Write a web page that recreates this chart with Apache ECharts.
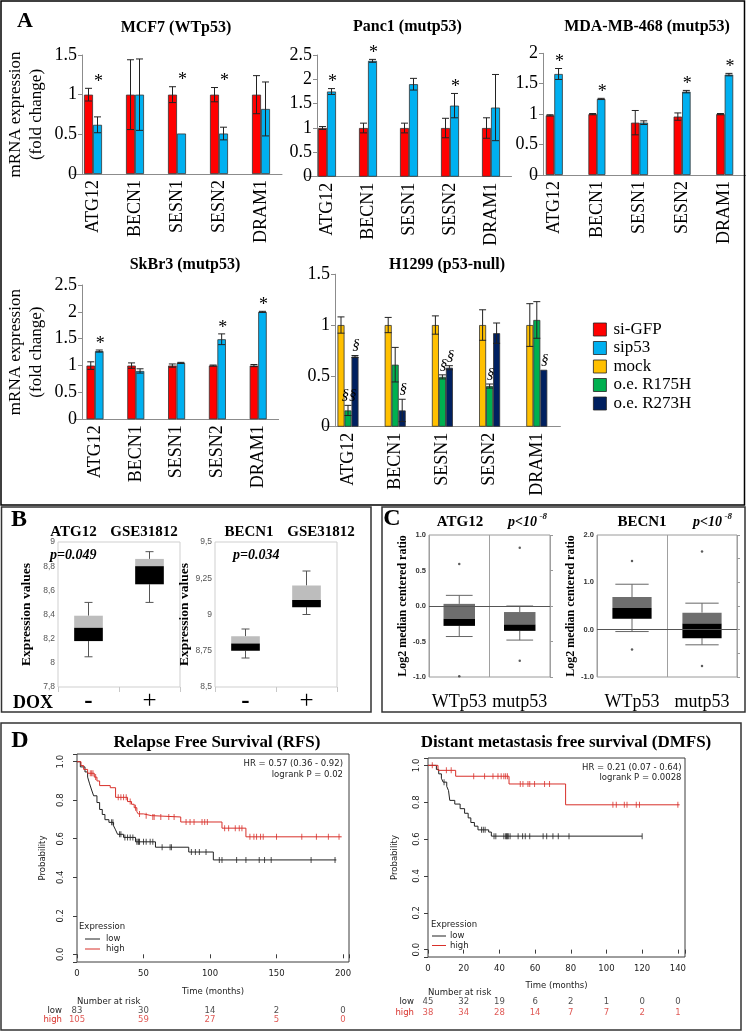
<!DOCTYPE html>
<html>
<head>
<meta charset="utf-8">
<title>p53 autophagy figure</title>
<script src="https://cdn.jsdelivr.net/npm/echarts@6.0.0/dist/echarts.min.js"></script>
<style>
  html, body { margin: 0; padding: 0; background: #fff; }
  #fig { width: 746px; height: 1032px; }
</style>
</head>
<body>
<div id="fig"></div>
<script>
// ---------- data ----------
var genes = ['ATG12', 'BECN1', 'SESN1', 'SESN2', 'DRAM1'];

// MCF7 (WTp53)
var mcfGfp    = [1.00, 1.00, 1.00, 1.00, 1.00];
var mcfGfpErr = [0.08, 0.44, 0.10, 0.09, 0.24];
var mcfSip    = [0.62, 1.00, 0.51, 0.51, 0.82];
var mcfSipErr = [0.10, 0.45, 0.00, 0.08, 0.34];
var mcfStar   = ['*', '', '*', '*', ''];

// Panc1 (mutp53)
var pancGfp    = [1.00, 1.00, 1.00, 1.00, 1.00];
var pancGfpErr = [0.03, 0.10, 0.10, 0.20, 0.21];
var pancSip    = [1.75, 2.38, 1.90, 1.46, 1.42];
var pancSipErr = [0.06, 0.03, 0.12, 0.25, 0.68];
var pancStar   = ['*', '*', '', '*', ''];

// MDA-MB-468 (mutp53)
var mdaGfp    = [0.98, 1.00, 0.86, 0.96, 1.00];
var mdaGfpErr = [0.01, 0.01, 0.20, 0.06, 0.01];
var mdaSip    = [1.66, 1.25, 0.86, 1.37, 1.65];
var mdaSipErr = [0.09, 0.01, 0.03, 0.02, 0.02];
var mdaStar   = ['*', '*', '', '*', '*'];

// SkBr3 (mutp53)
var skGfp    = [1.00, 1.00, 1.00, 1.00, 1.00];
var skGfpErr = [0.07, 0.05, 0.03, 0.01, 0.02];
var skSip    = [1.27, 0.90, 1.05, 1.49, 2.00];
var skSipErr = [0.02, 0.04, 0.01, 0.10, 0.01];
var skStar   = ['*', '', '', '*', '*'];

// H1299 (p53-null)
var hMock     = [1.00, 1.00, 1.00, 1.00, 1.00];
var hMockErr  = [0.08, 0.075, 0.09, 0.15, 0.21];
var hR175     = [0.16, 0.61, 0.49, 0.40, 1.05];
var hR175Err  = [0.05, 0.17, 0.02, 0.02, 0.18];
var hR273     = [0.69, 0.16, 0.58, 0.92, 0.56];
var hR273Err  = [0.01, 0.11, 0.02, 0.10, 0.00];
var hSigR175  = ['§§', '', '§', '§', ''];
var hSigR273  = ['§', '§', '§', '', '§'];

// B: GSE31812 boxes  [low, q1, median, q3, high]
var doxCats     = ['-', '+'];
var bAtgMinus   = [8.05, 8.18, 8.29, 8.39, 8.50];
var bAtgPlus    = [8.50, 8.65, 8.80, 8.86, 8.92];
var bBecMinus   = [8.70, 8.75, 8.80, 8.85, 8.90];
var bBecPlus    = [9.00, 9.05, 9.10, 9.20, 9.30];

// C: Log2 median centered ratio boxes [low, q1, median, q3, high]
var p53Cats   = ['WTp53', 'mutp53'];
var cAtgWT    = [-0.43, -0.28, -0.18, 0.03, 0.15];
var cAtgMut   = [-0.48, -0.35, -0.26, -0.085, 0.0];
var cAtgOut   = [[0, 0.59], [0, -0.99], [1, 0.82], [1, -0.77]];
var cBecWT    = [-0.04, 0.23, 0.46, 0.69, 0.96];
var cBecMut   = [-0.32, -0.18, 0.13, 0.36, 0.56];
var cBecOut   = [[0, 1.45], [0, -0.42], [1, 1.65], [1, -0.77]];

// D: Kaplan-Meier, RFS  [months, survival]
var rfsLow = [[0, 1], [2.5, 0.973], [6, 0.947], [8, 0.92], [9.5, 0.885], [11, 0.853], [12.5, 0.823],
  [15, 0.788], [17, 0.752], [19, 0.726], [21, 0.699], [24, 0.685], [27.5, 0.667], [29, 0.646],
  [30.5, 0.623], [35, 0.607], [44, 0.584], [59, 0.556], [84, 0.531], [102.5, 0.49], [195, 0.49]];
var rfsLowCens = [[26, 0.685], [27, 0.685], [32, 0.623], [33, 0.623], [36, 0.607], [38, 0.607],
  [40, 0.607], [42, 0.607], [45, 0.584], [46, 0.584], [46.5, 0.584], [47, 0.584], [50, 0.584],
  [52, 0.584], [55, 0.584], [57, 0.584], [64, 0.556], [70, 0.556], [71, 0.556], [86, 0.531],
  [89, 0.531], [92, 0.531], [97, 0.531], [107, 0.49], [109, 0.49], [120, 0.49], [127, 0.49],
  [137, 0.49], [141, 0.49], [146, 0.49], [176, 0.49], [194, 0.49]];
var rfsHigh = [[0, 1], [3, 0.98], [5, 0.96], [8, 0.94], [13, 0.92], [15, 0.90], [17, 0.876],
  [25, 0.865], [29, 0.815], [38, 0.793], [41, 0.779], [43, 0.761], [45, 0.74], [46, 0.729],
  [50, 0.72], [56, 0.713], [78, 0.687], [109, 0.655], [127, 0.61], [199, 0.61]];
var rfsHighCens = [[10, 0.94], [11, 0.94], [12, 0.94], [14, 0.92], [31, 0.815], [33, 0.815],
  [35, 0.815], [37, 0.815], [40, 0.793], [44, 0.761], [47, 0.729], [52, 0.72], [57, 0.713],
  [58, 0.713], [63, 0.713], [69, 0.713], [73, 0.713], [82, 0.687], [85, 0.687], [88, 0.687],
  [94, 0.687], [96, 0.687], [98, 0.687], [111, 0.655], [114, 0.655], [119, 0.655], [122, 0.655],
  [124, 0.655], [130, 0.61], [133, 0.61], [135, 0.61], [138, 0.61], [140, 0.61], [150, 0.61],
  [169, 0.61], [180, 0.61], [189, 0.61], [197, 0.61]];
var rfsTimes    = [0, 50, 100, 150, 200];
var rfsRiskLow  = [83, 30, 14, 2, 0];
var rfsRiskHigh = [105, 59, 27, 5, 0];

// D: Kaplan-Meier, DMFS
var dmfsLow = [[0, 1], [4.7, 0.978], [6, 0.954], [7.5, 0.93], [8.5, 0.909], [10.5, 0.886],
  [11.5, 0.863], [12.2, 0.81], [15, 0.79], [18, 0.765], [20.5, 0.74], [22.5, 0.715], [24, 0.69],
  [26, 0.67], [28, 0.65], [34, 0.638], [35.5, 0.616], [120, 0.616]];
var dmfsLowCens = [[9, 0.909], [30, 0.65], [31, 0.65], [32, 0.65], [37, 0.616], [38, 0.616],
  [42.5, 0.616], [43.5, 0.616], [44, 0.616], [44.5, 0.616], [45, 0.616], [46, 0.616],
  [50.5, 0.616], [53, 0.616], [54.5, 0.616], [57, 0.616], [64.5, 0.616], [66.5, 0.616],
  [70, 0.616], [73, 0.616], [79, 0.616], [120, 0.616]];
var dmfsHigh = [[0, 1], [5.6, 0.973], [15.5, 0.941], [45.4, 0.899], [77.1, 0.786], [141, 0.786]];
var dmfsHighCens = [[2.4, 1], [10.3, 0.973], [13, 0.973], [25.6, 0.941], [31.7, 0.941],
  [36.4, 0.941], [39.2, 0.941], [41, 0.941], [42.5, 0.941], [43.5, 0.941], [44.5, 0.941],
  [51.7, 0.899], [53.2, 0.899], [56, 0.899], [57, 0.899], [59.7, 0.899], [65.3, 0.899],
  [68.1, 0.899], [103.6, 0.786], [105.5, 0.786], [110, 0.786], [111.5, 0.786], [116.7, 0.786],
  [118.5, 0.786], [140, 0.786]];
var dmfsTimes    = [0, 20, 40, 60, 80, 100, 120, 140];
var dmfsRiskLow  = [45, 32, 19, 6, 2, 1, 0, 0];
var dmfsRiskHigh = [38, 34, 28, 14, 7, 7, 2, 1];

// ---------- styles ----------
var SERIF = '"Liberation Serif", "Times New Roman", serif';
var SANS = '"Liberation Sans", Arial, sans-serif';
var RSANS = '"DejaVu Sans", sans-serif';
var KMRED = '#d8302a';
var COLORS = {
  'si-GFP': '#ff0000', 'sip53': '#00b0f0', 'mock': '#ffc000',
  'o.e. R175H': '#00b050', 'o.e. R273H': '#002060'
};

var grids = [], xAxes = [], yAxes = [], extraY = [], series = [], graphics = [];

function seg(x1, y1, x2, y2, color, w) {
  return {type: 'line', shape: {x1: x1, y1: y1, x2: x2, y2: y2},
    style: {stroke: color || '#222', lineWidth: w || 1}};
}
function txt(x, y, s, font, opt) {
  opt = opt || {};
  graphics.push({type: 'text', x: x, y: y, rotation: opt.rot || 0, silent: true, z: 10,
    style: {text: s, font: font, fill: opt.color || '#000',
      textAlign: opt.align || 'center', textVerticalAlign: 'middle'}});
}
function frame(x, y, w, h, color) {
  graphics.push({type: 'rect', silent: true, z: 10, shape: {x: x, y: y, width: w, height: h},
    style: {fill: 'none', stroke: color, lineWidth: 1.5}});
}

// ---------- panel A: bar charts ----------
function barPanel(p) {
  var gi = grids.length;
  grids.push({left: p.left, top: p.top, width: p.width, height: p.height});
  xAxes.push({
    gridIndex: gi, type: 'category', data: genes,
    axisLine: {lineStyle: {color: '#8c8c8c'}},
    axisTick: {length: 5, lineStyle: {color: '#8c8c8c'}},
    axisLabel: {interval: 0, rotate: 90, margin: 6, fontFamily: SERIF, fontSize: 18, color: '#000'}
  });
  yAxes.push({
    gridIndex: gi, type: 'value', min: 0, max: p.max, interval: 0.5, offset: p.offset,
    axisLine: {show: true, lineStyle: {color: '#8c8c8c'}},
    axisTick: {show: true, length: 4, lineStyle: {color: '#8c8c8c'}},
    splitLine: {show: false},
    axisLabel: {fontFamily: SERIF, fontSize: 18, color: '#000', margin: 5},
    name: p.yName || '', nameLocation: 'middle', nameRotate: 90, nameGap: p.nameGap || 0,
    nameTextStyle: {fontFamily: SERIF, fontSize: 17, color: '#000', lineHeight: 21}
  });
  p.values.forEach(function (v, s) {
    series.push({
      type: 'bar', name: p.names[s], xAxisIndex: gi, yAxisIndex: gi, data: v,
      barWidth: p.barW, barGap: '0%', silent: true,
      itemStyle: {color: COLORS[p.names[s]], borderColor: '#333', borderWidth: 0.8}
    });
  });
  // error bars + significance marks
  series.push({
    type: 'custom', xAxisIndex: gi, yAxisIndex: gi, silent: true, z: 5,
    data: genes.map(function (g, i) { return [i, 0]; }),
    renderItem: function (params, api) {
      var i = api.value(0), n = p.values.length;
      var cx = api.coord([i, 0])[0];
      var kids = [], groupTop = Infinity, tops = [];
      for (var s = 0; s < n; s++) {
        var m = p.values[s][i], e = p.errs[s][i];
        var x = cx + (s - (n - 1) / 2) * p.barW;
        var hi = api.coord([i, m + e])[1], lo = api.coord([i, m - e])[1];
        tops.push([x, hi]);
        groupTop = Math.min(groupTop, hi);
        if (e > 0) {
          kids.push(seg(x, hi, x, lo), seg(x - 3.5, hi, x + 3.5, hi), seg(x - 3.5, lo, x + 3.5, lo));
        }
      }
      if (p.star && p.star[i]) {
        kids.push({type: 'text', style: {text: p.star[i], x: tops[n - 1][0] + 1, y: groupTop - 6,
          font: '18px ' + SERIF, fill: '#000', textAlign: 'center', textVerticalAlign: 'middle'}});
      }
      if (p.sig) {
        p.sig.forEach(function (arr, k) {
          var s2 = k + 1;
          if (arr[i]) {
            kids.push({type: 'text', style: {text: arr[i], x: tops[s2][0] + 1, y: tops[s2][1] - 10,
              font: 'italic 15px ' + SERIF, fill: '#000', textAlign: 'center', textVerticalAlign: 'middle'}});
          }
        });
      }
      return {type: 'group', children: kids};
    }
  });
}

barPanel({left: 72, top: 55, width: 210, height: 119, offset: -10, max: 1.5, barW: 9,
  names: ['si-GFP', 'sip53'], values: [mcfGfp, mcfSip], errs: [mcfGfpErr, mcfSipErr], star: mcfStar,
  yName: 'mRNA expression\n(fold change)', nameGap: 35});
barPanel({left: 306.5, top: 55, width: 205, height: 121.7, offset: -10.5, max: 2.5, barW: 9,
  names: ['si-GFP', 'sip53'], values: [pancGfp, pancSip], errs: [pancGfpErr, pancSipErr], star: pancStar});
barPanel({left: 533, top: 53.3, width: 215, height: 121.7, offset: -10, max: 2, barW: 8.5,
  names: ['si-GFP', 'sip53'], values: [mdaGfp, mdaSip], errs: [mdaGfpErr, mdaSipErr], star: mdaStar});
barPanel({left: 74.6, top: 285, width: 204, height: 134.3, offset: -7.4, max: 2.5, barW: 8.5,
  names: ['si-GFP', 'sip53'], values: [skGfp, skSip], errs: [skGfpErr, skSipErr], star: skStar,
  yName: 'mRNA expression\n(fold change)', nameGap: 35});
barPanel({left: 324.4, top: 274.2, width: 236, height: 152.5, offset: -10.6, max: 1.5, barW: 7,
  names: ['mock', 'o.e. R175H', 'o.e. R273H'], values: [hMock, hR175, hR273],
  errs: [hMockErr, hR175Err, hR273Err], sig: [hSigR175, hSigR273]});

// ---------- panels B and C: box plots ----------
function boxPanel(p) {
  var gi = grids.length;
  grids.push({left: p.left, top: p.top, width: p.width, height: p.height,
    show: true, borderColor: p.frame, borderWidth: 1});
  xAxes.push({gridIndex: gi, type: 'category', data: p.cats,
    axisLine: {show: false},
    axisTick: {show: !!p.tick, length: 5, lineStyle: {color: '#c8c8c8'}},
    splitLine: {show: !!p.split, lineStyle: {color: '#a0a0a0'}},
    axisLabel: p.catLabel});
  yAxes.push({gridIndex: gi, type: 'value', min: p.min, max: p.max, interval: p.step,
    axisLine: {show: false}, axisTick: {show: false}, splitLine: {show: false},
    axisLabel: p.valLabel,
    name: p.yName, nameLocation: 'middle', nameRotate: 90, nameGap: p.nameGap,
    nameTextStyle: {fontFamily: SERIF, fontWeight: 'bold', fontSize: p.nameSize, color: '#000'}});
  series.push({
    type: 'custom', xAxisIndex: gi, yAxisIndex: gi, silent: true,
    data: p.boxes.map(function (b, i) { return [i].concat(b); }),
    encode: {x: 0, y: [1, 2, 3, 4, 5]},
    renderItem: function (params, api) {
      var i = api.value(0);
      var ys = [1, 2, 3, 4, 5].map(function (k) { return api.coord([i, api.value(k)])[1]; });
      var x = api.coord([i, p.min])[0];
      var bw = api.size([1, 0])[0] * p.boxFrac;
      var cw = p.capW || bw * 0.85;
      var wc = p.whisker;
      return {type: 'group', children: [
        seg(x, ys[4], x, ys[3], wc), seg(x, ys[1], x, ys[0], wc),
        seg(x - cw / 2, ys[4], x + cw / 2, ys[4], wc), seg(x - cw / 2, ys[0], x + cw / 2, ys[0], wc),
        {type: 'rect', shape: {x: x - bw / 2, y: ys[3], width: bw, height: ys[2] - ys[3]}, style: {fill: p.upper}},
        {type: 'rect', shape: {x: x - bw / 2, y: ys[2], width: bw, height: ys[1] - ys[2]}, style: {fill: '#000'}}
      ]};
    }
  });
  if (p.out) {
    series.push({type: 'scatter', xAxisIndex: gi, yAxisIndex: gi, silent: true, data: p.out,
      symbolSize: 2.5, itemStyle: {color: '#333'},
      markLine: {silent: true, symbol: ['none', 'none'], label: {show: false},
        lineStyle: {color: '#555', type: 'solid', width: 1.2}, data: [{yAxis: 0}]}});
    extraY.push({gridIndex: gi, type: 'value', position: 'right', min: p.min, max: p.max, interval: 0.5,
      axisLine: {show: false}, axisTick: {show: true, length: 3, lineStyle: {color: '#999'}},
      axisLabel: {show: false}, splitLine: {show: false}});
  }
}

var doxLabel = {interval: 0, margin: 2,
  formatter: function (v) { return v === '-' ? '{m|-}' : '{p|+}'; },
  rich: {m: {fontFamily: SERIF, fontSize: 25, fontWeight: 'bold', color: '#000'},
         p: {fontFamily: SERIF, fontSize: 25, color: '#000'}}};
function commaLabel(v) { return String(Math.round(v * 100) / 100).replace('.', ','); }
var bValLabel = {fontFamily: SANS, fontSize: 8.5, color: '#555', margin: 3, formatter: commaLabel};

boxPanel({left: 58, top: 542, width: 122, height: 145, min: 7.8, max: 9, step: 0.2,
  cats: doxCats, boxes: [bAtgMinus, bAtgPlus], frame: '#cfcfcf', tick: true,
  catLabel: doxLabel, valLabel: bValLabel, upper: '#bdbdbd', whisker: '#555', capW: 8, boxFrac: 0.47,
  yName: 'Expression values', nameGap: 24, nameSize: 13.5});
boxPanel({left: 215, top: 542, width: 122, height: 145, min: 8.5, max: 9.5, step: 0.25,
  cats: doxCats, boxes: [bBecMinus, bBecPlus], frame: '#cfcfcf', tick: true,
  catLabel: doxLabel, valLabel: bValLabel, upper: '#bdbdbd', whisker: '#555', capW: 8, boxFrac: 0.47,
  yName: 'Expression values', nameGap: 5, nameSize: 13.5});

var cCatLabel = {interval: 0, margin: 16, fontFamily: SERIF, fontSize: 18, color: '#000'};
var cValLabel = {fontFamily: SANS, fontSize: 7.5, fontWeight: 'bold', color: '#333', margin: 3,
  formatter: function (v) { return v.toFixed(1); }};
boxPanel({left: 429, top: 535, width: 121, height: 142, min: -1, max: 1, step: 0.5,
  cats: p53Cats, boxes: [cAtgWT, cAtgMut], out: cAtgOut, frame: '#9a9a9a', split: true,
  catLabel: cCatLabel, valLabel: cValLabel, upper: '#6e6e6e', whisker: '#666', boxFrac: 0.52,
  yName: 'Log2 median centered ratio', nameGap: 12, nameSize: 12});
boxPanel({left: 597, top: 535, width: 140, height: 142, min: -1, max: 2, step: 1,
  cats: p53Cats, boxes: [cBecWT, cBecMut], out: cBecOut, frame: '#9a9a9a', split: true,
  catLabel: cCatLabel, valLabel: cValLabel, upper: '#6e6e6e', whisker: '#666', boxFrac: 0.56,
  yName: 'Log2 median centered ratio', nameGap: 14, nameSize: 12});

// ---------- panel D: Kaplan-Meier ----------
function onStep(step) {
  return function (v) {
    return Math.abs(v / step - Math.round(v / step)) < 1e-6 ? String(+v.toFixed(1)) : '';
  };
}
function kmPanel(p) {
  var gi = grids.length;
  grids.push({left: p.left, top: p.top, width: p.width, height: p.height,
    show: true, borderColor: '#3c3c3c', borderWidth: 1});
  xAxes.push({gridIndex: gi, type: 'value', min: 0, max: p.xmax, interval: p.xstep,
    axisLine: {show: false}, splitLine: {show: false},
    axisTick: {show: true, length: 4, lineStyle: {color: '#3c3c3c'}},
    axisLabel: {fontFamily: RSANS, fontSize: 8.5, color: '#222', margin: p.xMargin, formatter: onStep(p.xstep)},
    name: 'Time (months)', nameLocation: 'middle', nameGap: p.xNameGap,
    nameTextStyle: {fontFamily: RSANS, fontSize: 8.5, color: '#222'}});
  yAxes.push({gridIndex: gi, type: 'value', min: -0.04, max: 1.04,
    axisLine: {show: false}, splitLine: {show: false},
    axisTick: {show: true, length: 4, lineStyle: {color: '#3c3c3c'}},
    axisLabel: {rotate: 90, fontFamily: RSANS, fontSize: 8.5, color: '#222', margin: p.yMargin,
      formatter: function (v) { return Math.abs(v * 5 - Math.round(v * 5)) < 1e-6 ? v.toFixed(1) : ''; }},
    name: 'Probability', nameLocation: 'middle', nameRotate: 90, nameGap: p.yNameGap,
    nameTextStyle: {fontFamily: RSANS, fontSize: 8.5, color: '#222'}});
  [['low', p.low, p.lowCens, '#222'], ['high', p.high, p.highCens, KMRED]].forEach(function (d) {
    series.push({type: 'line', name: d[0], xAxisIndex: gi, yAxisIndex: gi, data: d[1], step: 'end',
      symbol: 'none', silent: true, color: d[3], lineStyle: {color: d[3], width: 1}});
    series.push({type: 'scatter', name: d[0] + ' censored', xAxisIndex: gi, yAxisIndex: gi, data: d[2],
      symbol: 'rect', symbolSize: [1, 6], silent: true, itemStyle: {color: d[3]}});
  });
  // number-at-risk rows
  var rg = grids.length;
  grids.push({left: p.left, top: p.riskTop, width: p.width, height: p.riskH});
  xAxes.push({gridIndex: rg, type: 'value', min: 0, max: p.xmax, show: false});
  yAxes.push({gridIndex: rg, type: 'category', data: ['high', 'low'],
    axisLine: {show: false}, axisTick: {show: false},
    axisLabel: {interval: 0, fontFamily: RSANS, fontSize: 8.5, margin: p.riskMargin,
      color: function (v) { return v === 'high' ? KMRED : '#222'; }}});
  [[1, p.riskLow, '#222'], [0, p.riskHigh, KMRED]].forEach(function (r) {
    series.push({type: 'scatter', xAxisIndex: rg, yAxisIndex: rg, silent: true, symbolSize: 1,
      itemStyle: {color: 'transparent'},
      data: p.times.map(function (t, k) { return [t, r[0], r[1][k]]; }),
      label: {show: true, position: 'inside', fontFamily: RSANS, fontSize: 8.5, color: r[2],
        formatter: function (q) { return String(q.value[2]); }}});
  });
}

kmPanel({left: 77, top: 754, width: 272, height: 208, xmax: 204.5, xstep: 50,
  low: rfsLow, lowCens: rfsLowCens, high: rfsHigh, highCens: rfsHighCens,
  xMargin: 7, xNameGap: 25, yMargin: 12, yNameGap: 30,
  riskTop: 1006.5, riskH: 18, riskMargin: 15, times: rfsTimes, riskLow: rfsRiskLow, riskHigh: rfsRiskHigh});
kmPanel({left: 428, top: 758, width: 257, height: 199, xmax: 144, xstep: 20,
  low: dmfsLow, lowCens: dmfsLowCens, high: dmfsHigh, highCens: dmfsHighCens,
  xMargin: 7, xNameGap: 24, yMargin: 7, yNameGap: 29,
  riskTop: 997, riskH: 20.5, riskMargin: 14, times: dmfsTimes, riskLow: dmfsRiskLow, riskHigh: dmfsRiskHigh});

// ---------- frames, titles and annotations ----------
frame(1, 1, 743.5, 504, '#000');
frame(1.5, 507, 369.5, 205, '#333');
frame(382, 507, 363, 205, '#333');
frame(1, 723, 740, 307, '#333');

var BOLD = function (px) { return 'bold ' + px + 'px ' + SERIF; };
txt(25, 21.5, 'A', BOLD(22));
txt(176, 28, 'MCF7 (WTp53)', BOLD(16));
txt(407.5, 27, 'Panc1 (mutp53)', BOLD(16));
txt(647, 27, 'MDA-MB-468 (mutp53)', BOLD(16));
txt(185, 265, 'SkBr3 (mutp53)', BOLD(16));
txt(447, 265, 'H1299 (p53-null)', BOLD(16));

txt(19, 520, 'B', BOLD(24));
txt(73.5, 532, 'ATG12', BOLD(15));
txt(144, 532, 'GSE31812', BOLD(15));
txt(249, 532, 'BECN1', BOLD(15));
txt(321, 532, 'GSE31812', BOLD(15));
txt(50, 555, 'p=0.049', 'bold italic 14px ' + SERIF, {align: 'left'});
txt(233, 555, 'p=0.034', 'bold italic 14px ' + SERIF, {align: 'left'});
txt(13, 703, 'DOX', BOLD(18), {align: 'left'});

txt(392, 519, 'C', BOLD(24));
txt(460, 522, 'ATG12', BOLD(15));
txt(508, 522, 'p<10', 'bold italic 14px ' + SERIF, {align: 'left'});
txt(539.5, 517, '-8', 'bold italic 9px ' + SERIF, {align: 'left'});
txt(642, 522, 'BECN1', BOLD(15));
txt(693, 522, 'p<10', 'bold italic 14px ' + SERIF, {align: 'left'});
txt(724.5, 517, '-8', 'bold italic 9px ' + SERIF, {align: 'left'});

txt(20, 741, 'D', BOLD(24));
txt(217, 743, 'Relapse Free Survival (RFS)', BOLD(17));
txt(566, 743, 'Distant metastasis free survival (DMFS)', BOLD(17));

var KMF = '8.5px ' + RSANS;
txt(343, 764, 'HR = 0.57 (0.36 - 0.92)', KMF, {align: 'right', color: '#222'});
txt(343, 775, 'logrank P = 0.02', KMF, {align: 'right', color: '#222'});
txt(681.5, 767.5, 'HR = 0.21 (0.07 - 0.64)', KMF, {align: 'right', color: '#222'});
txt(681.5, 777.5, 'logrank P = 0.0028', KMF, {align: 'right', color: '#222'});

// KM legends
txt(79, 927, 'Expression', KMF, {align: 'left', color: '#222'});
graphics.push(seg(85, 939, 100, 939, '#222'), seg(85, 949, 100, 949, KMRED));
txt(106, 939, 'low', KMF, {align: 'left', color: '#222'});
txt(106, 949, 'high', KMF, {align: 'left', color: '#222'});
txt(431, 925, 'Expression', KMF, {align: 'left', color: '#222'});
graphics.push(seg(432, 936, 446, 936, '#222'), seg(432, 945.5, 446, 945.5, KMRED));
txt(450, 936, 'low', KMF, {align: 'left', color: '#222'});
txt(450, 945.5, 'high', KMF, {align: 'left', color: '#222'});

txt(77, 1002, 'Number at risk', KMF, {align: 'left', color: '#222'});
txt(428, 993, 'Number at risk', KMF, {align: 'left', color: '#222'});

// ---------- chart ----------
var chart = echarts.init(document.getElementById('fig'));
chart.setOption({
  animation: false,
  backgroundColor: '#fff',
  legend: {
    data: ['si-GFP', 'sip53', 'mock', 'o.e. R175H', 'o.e. R273H'],
    orient: 'vertical', left: 593, top: 321, padding: 0, icon: 'rect',
    itemWidth: 13, itemHeight: 13, itemGap: 1.5, selectedMode: false,
    itemStyle: {borderColor: '#222', borderWidth: 0.8},
    textStyle: {fontFamily: SERIF, fontSize: 17, color: '#000', lineHeight: 17, padding: [0, 0, 0, 2]}
  },
  grid: grids,
  xAxis: xAxes,
  yAxis: yAxes.concat(extraY),
  series: series,
  graphic: {elements: graphics}
});
</script>
</body>
</html>
